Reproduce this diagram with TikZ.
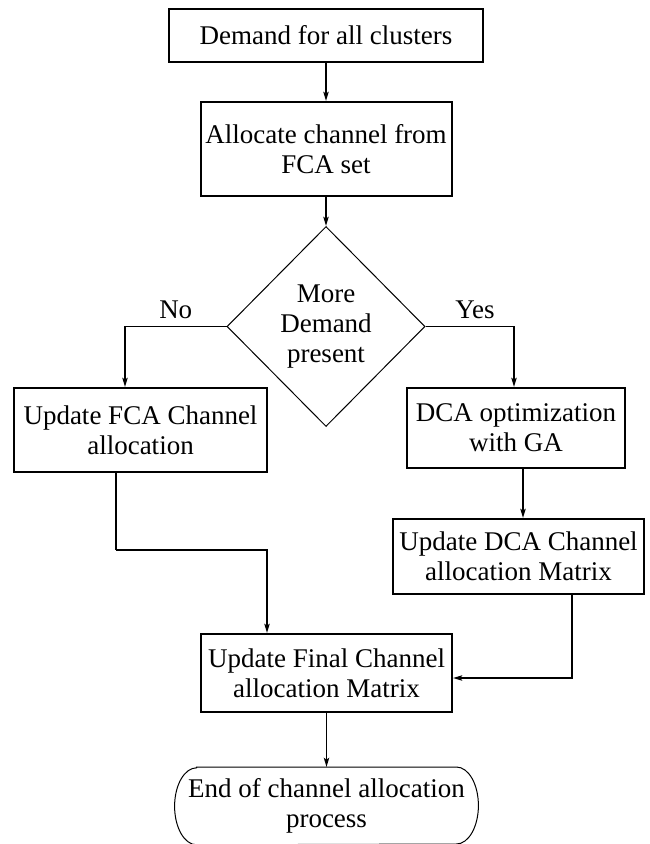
\documentclass[tikz,border=0pt]{standalone}
\usepackage{fontspec}
\setmainfont{Liberation Serif}
\usepackage{tikz}
\usetikzlibrary{shapes.geometric, arrows.meta, positioning, calc}
\tikzstyle{procbox} = [rectangle, draw=black, line width=1pt, text centered, align=center,
  inner xsep=1pt, inner ysep=2pt, font=\fontsize{13.5pt}{15pt}\selectfont]
\tikzstyle{decision} = [diamond, draw=black, line width=0.5pt, text centered, align=center,
  inner sep=0pt, minimum width=99pt, minimum height=100pt, font=\fontsize{13.5pt}{15pt}\selectfont]
\tikzstyle{endbox} = [rectangle, text centered, align=center, inner sep=1pt,
  minimum width=151.5pt, minimum height=38.5pt, font=\fontsize{13.5pt}{15pt}\selectfont]
\tikzstyle{answer} = [above, font=\fontsize{13.5pt}{15pt}\selectfont]
\tikzstyle{arrow} = [line width=0.9pt, -{Stealth[length=4.5pt, width=2.6pt, inset=0.8pt]}]
\tikzstyle{link} = [line width=0.9pt]

\begin{document}
\begin{tikzpicture}
  \useasboundingbox (0,0) rectangle (324.5pt,-422pt);

  \node (demand) [procbox, minimum width=157pt, minimum height=26.5pt] at (163pt,-17.75pt) {Demand for all clusters};
  \node (alloc)  [procbox, below=19pt of demand, minimum width=125.5pt, minimum height=47pt] {Allocate channel from\\FCA set};
  \node (more)   [decision, below=14.5pt of alloc] {More\\Demand\\present};
  \node (fca)    [procbox, minimum width=126.5pt, minimum height=42pt] at (70.25pt,-215pt) {Update FCA Channel\\allocation};
  \node (dca)    [procbox, minimum width=109pt, minimum height=40pt] at (258pt,-214pt) {DCA optimization\\with GA};
  \node (dcamat) [procbox, minimum width=125.5pt, minimum height=37.5pt] at (259.25pt,-278.25pt) {Update DCA Channel\\allocation Matrix};
  \node (final)  [procbox, minimum width=125.5pt, minimum height=39pt] at (163.25pt,-336.5pt) {Update Final Channel\\allocation Matrix};
  \node (end)    [endbox, below=27pt of final] {End of channel allocation\\process};
  \draw[line width=0.5pt] ([xshift=11pt]end.north west) -- ([xshift=-11pt]end.north east)
    arc[start angle=90, end angle=-90, x radius=11pt, y radius=19.25pt]
    -- ([xshift=11pt]end.south west)
    arc[start angle=270, end angle=90, x radius=11pt, y radius=19.25pt] -- cycle;

  \coordinate (fcaturn) at (58pt,-275pt);

  \draw[arrow] (demand) -- (demand |- alloc.north);
  \draw[arrow] (alloc) -- (alloc |- more.north);
  \draw[arrow] (more.west) -| node[answer, pos=0.25] {No} ([xshift=-7.75pt]fca.north);
  \draw[arrow] (more.east) -| node[answer, pos=0.28] {Yes} ([xshift=-1pt]dca.north);
  \draw[arrow] ([xshift=3.5pt]dca.south) -- ([xshift=3.5pt]dca.south |- dcamat.north);
  \draw[link] ([xshift=-12.25pt]fca.south) -- (fcaturn);
  \draw[arrow] (fcaturn) -| ([xshift=-29.75pt]final.north);
  \draw[arrow] ([xshift=26.75pt]dcamat.south) |- ([yshift=-2.5pt]final.east);
  \draw[arrow] (final) -- (end);
\end{tikzpicture}
\end{document}
